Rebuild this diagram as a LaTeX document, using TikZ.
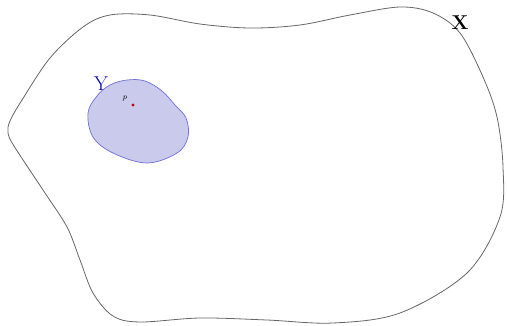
\documentclass[tikz,border=0pt]{standalone}
\begin{document}
\begin{tikzpicture}[x=1pt,y=-1pt,
  setx/.style={draw=black!60, line width=0.8pt},
  sety/.style={draw={rgb,255:red,110;green,110;blue,220}, fill={rgb,255:red,202;green,202;blue,236}, line width=0.7pt}]
\useasboundingbox (0,0) rectangle (507,325);
\draw[setx] plot[smooth cycle, tension=0.55] coordinates {
 (10,121) (22,100) (50,58) (83,27) (110,15) (150,15) (200,24) (250,28) (300,25) (350,15) (400,7) (433,13) (460,33) (483,77) (497,117) (503,167) (500,217) (467,273) (400,313) (333,323) (267,320) (200,318) (140,322) (113,316) (93,293) (80,260) (67,227) (43,190) (14,146) (8,133)};
\draw[sety] plot[smooth cycle, tension=0.6] coordinates {
 (97,96) (110,85) (127,80) (145,81) (162,91) (175,105) (186,118) (188,137) (177,153) (147,163) (113,153) (93,137) (88,113)};
\node[text=blue!75!black, font=\fontsize{20}{20}\selectfont] (ylab) at (101,84) {Y};
\node[font=\fontsize{20}{20}\selectfont\bfseries] (xlab) at (460,23) {X};
\node[font=\fontsize{8}{8}\selectfont] (plab) at (125,99) {$p$};
\fill[red!80!black] (133,105) circle (1.6pt) coordinate (p);
\end{tikzpicture}
\end{document}
